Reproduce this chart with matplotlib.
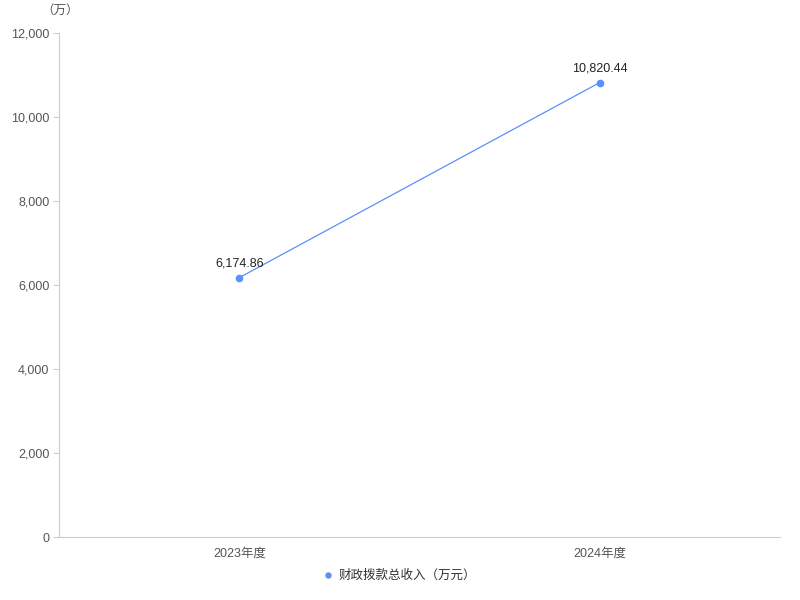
import matplotlib
matplotlib.use('Agg')
import matplotlib.pyplot as plt

plt.rcParams['font.family'] = ['Liberation Sans', 'Noto Sans CJK SC', 'DejaVu Sans']

categories = ['2023年度', '2024年度']
values = [6174.86, 10820.44]
value_labels = ['6,174.86', '10,820.44']
series_name = '财政拨款总收入（万元）'
yticks = [0, 2000, 4000, 6000, 8000, 10000, 12000]

line_color = '#5b8ff9'
axis_color = '#cccccc'

fig = plt.figure(figsize=(8, 6), dpi=100)
ax = fig.add_axes([59/800, 1-537/600, 721/800, 504/600])

x = [0, 1]
ax.plot(x, values, color=line_color, linewidth=0.9, marker='o', markersize=4.5,
        label=series_name)
for xi, v, lab in zip(x, values, value_labels):
    ax.annotate(lab, (xi, v), xytext=(0, 6), textcoords='offset points',
                ha='center', va='bottom', fontsize=9, color='#222222')

ax.set_xlim(-0.5, 1.5)
ax.set_ylim(0, 12000)
ax.set_xticks(x)
ax.set_xticklabels(categories)
ax.set_yticks(yticks)
ax.set_yticklabels(['{:,}'.format(t) for t in yticks])
ax.tick_params(axis='y', length=4, color=axis_color, labelsize=9, labelcolor='#555555', pad=3)
ax.tick_params(axis='x', length=0, labelsize=9, labelcolor='#555555', pad=8)

for side in ['top', 'right']:
    ax.spines[side].set_visible(False)
for side in ['left', 'bottom']:
    ax.spines[side].set_color(axis_color)
    ax.spines[side].set_linewidth(0.8)

fig.text(60/800, 1-11/600, '（万）', ha='center', va='center', fontsize=9, color='#555555')

leg = fig.legend(loc='center', bbox_to_anchor=(0.5, 1-576/600), frameon=False,
                 fontsize=9, handlelength=0.6, handletextpad=0.5, markerscale=0.8)
for h in leg.legend_handles:
    h.set_linestyle('none')
for t in leg.get_texts():
    t.set_color('#333333')

fig.savefig('out.png', dpi=100)
